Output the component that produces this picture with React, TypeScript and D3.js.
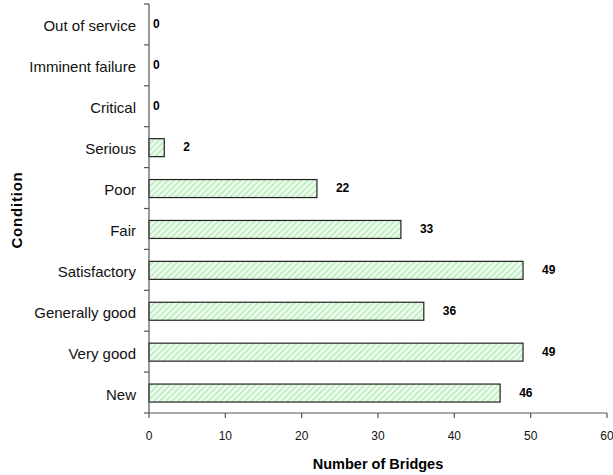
import React from "react";
import * as d3 from "d3";

// Bridge condition ratings, listed bottom-to-top as drawn
const conditions = [
  "New",
  "Very good",
  "Generally good",
  "Satisfactory",
  "Fair",
  "Poor",
  "Serious",
  "Critical",
  "Imminent failure",
  "Out of service",
];
const bridgeCounts = [46, 49, 36, 49, 33, 22, 2, 0, 0, 0];
const xTicks = [0, 10, 20, 30, 40, 50, 60];

const W = 613;
const H = 475;
const plotLeft = 149;
const plotRight = 607;
const plotTop = 4;
const plotBottom = 413;

export default function App() {
  const x = d3.scaleLinear().domain([0, 60]).range([plotLeft, plotRight]);
  // top-to-bottom order for the band scale
  const order = [...conditions].reverse();
  const y = d3
    .scaleBand<string>()
    .domain(order)
    .range([plotTop, plotBottom])
    .paddingInner(0.56)
    .paddingOuter(0.28);
  const step = y.step();
  const bandEdges = d3.range(order.length + 1).map((i) => plotTop + i * step);

  const font = "'Liberation Sans', Arial, sans-serif";
  const axisColor = "#555";

  return (
    <svg
      width={W}
      height={H}
      style={{ position: "absolute", left: 0, top: 0 }}
      fontFamily={font}
    >
      <defs>
        <pattern
          id="hatch"
          patternUnits="userSpaceOnUse"
          width={4.3}
          height={4.3}
          patternTransform="rotate(45)"
        >
          <rect width={4.3} height={4.3} fill="#f4fdf4" />
          <rect width={2.2} height={4.3} fill="#c4efc4" />
        </pattern>
      </defs>
      <rect width={W} height={H} fill="#fff" />

      {/* bars */}
      {conditions.map((c, i) => {
        const v = bridgeCounts[i];
        const y0 = y(c)!;
        const bh = y.bandwidth();
        return (
          <g key={c}>
            {v > 0 && (
              <rect
                x={x(0)}
                y={y0 + 0.5}
                width={x(v) - x(0)}
                height={bh}
                fill="url(#hatch)"
                stroke="#222"
                strokeWidth={1.2}
              />
            )}
            <text
              x={x(v) + (v === 0 ? 4 : 19)}
              y={y0 + bh / 2 + 4}
              fontSize={12}
              fontWeight="bold"
              fill="#000"
            >
              {v}
            </text>
          </g>
        );
      })}

      {/* y axis */}
      <line
        x1={plotLeft}
        x2={plotLeft}
        y1={plotTop}
        y2={plotBottom}
        stroke={axisColor}
        strokeWidth={1.2}
      />
      {bandEdges.map((e, i) => (
        <line
          key={i}
          x1={plotLeft - 5}
          x2={plotLeft}
          y1={e}
          y2={e}
          stroke={axisColor}
          strokeWidth={1.2}
        />
      ))}
      {conditions.map((c) => (
        <text
          key={c}
          x={136}
          y={y(c)! + y.bandwidth() / 2 + 7}
          textAnchor="end"
          fontSize={15}
          fill="#111"
        >
          {c}
        </text>
      ))}

      {/* x axis */}
      <line
        x1={plotLeft}
        x2={plotRight}
        y1={plotBottom}
        y2={plotBottom}
        stroke={axisColor}
        strokeWidth={1.2}
      />
      {xTicks.map((t) => (
        <g key={t}>
          <line
            x1={x(t)}
            x2={x(t)}
            y1={plotBottom}
            y2={plotBottom + 5}
            stroke={axisColor}
            strokeWidth={1.2}
          />
          <text
            x={x(t)}
            y={440}
            textAnchor="middle"
            fontSize={12}
            fill="#111"
          >
            {t}
          </text>
        </g>
      ))}

      {/* axis titles */}
      <text
        x={(plotLeft + plotRight) / 2}
        y={469}
        textAnchor="middle"
        fontSize={14.5}
        fontWeight="bold"
        fill="#000"
      >
        Number of Bridges
      </text>
      <text
        transform={`translate(22,210) rotate(-90)`}
        textAnchor="middle"
        fontSize={15}
        fontWeight="bold"
        letterSpacing={0.8}
        fill="#000"
      >
        Condition
      </text>
    </svg>
  );
}
